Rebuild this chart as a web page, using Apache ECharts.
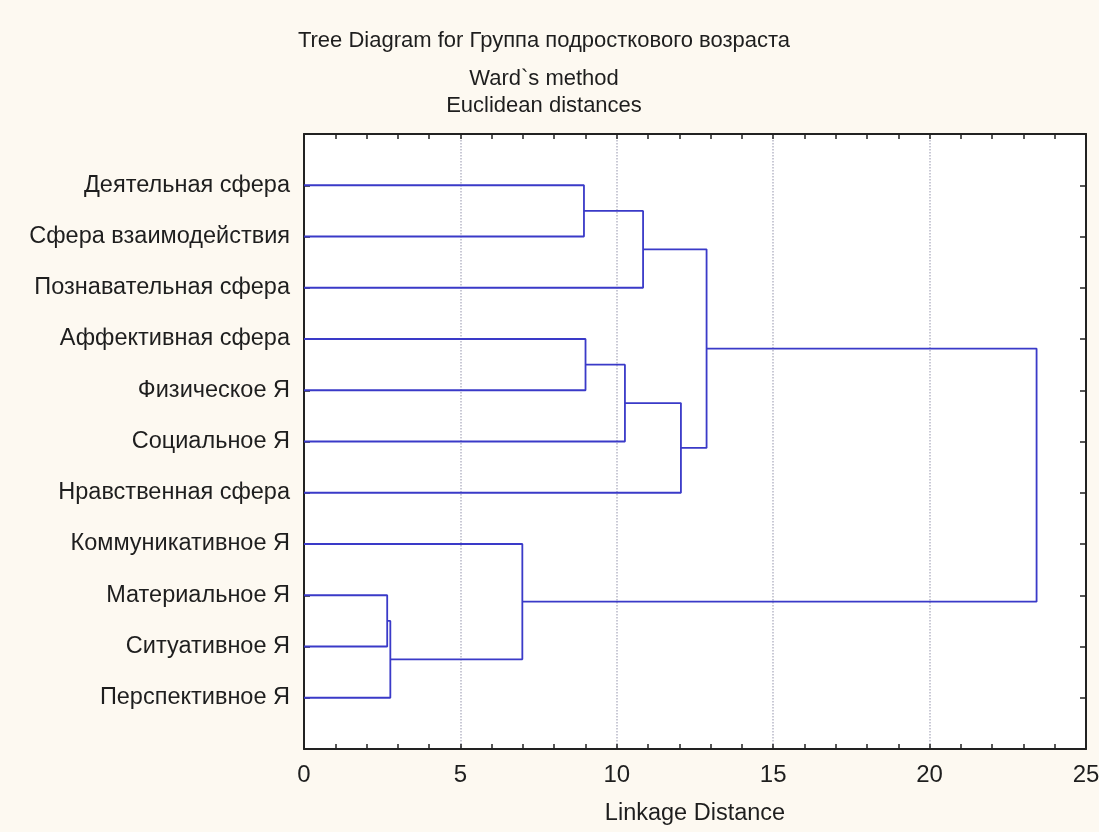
<!DOCTYPE html>
<html><head><meta charset="utf-8">
<script src="https://cdn.jsdelivr.net/npm/echarts@6/dist/echarts.min.js"></script>
<style>html,body{margin:0;padding:0;background:#fdf9f1;}#c{width:1099px;height:832px;}</style>
</head><body><div id="c"></div>
<script>
const leaves = ["Деятельная сфера","Сфера взаимодействия","Познавательная сфера","Аффективная сфера","Физическое Я","Социальное Я","Нравственная сфера","Коммуникативное Я","Материальное Я","Ситуативное Я","Перспективное Я"];
// merges: node index of left child, right child, linkage distance (new node = 11 + k)
const mergeLeft   = [0, 11, 3, 13, 14, 12, 8, 17, 7, 16];
const mergeRight  = [1, 2, 4, 5, 6, 15, 9, 10, 18, 19];
const mergeHeight = [8.95, 10.84, 9.0, 10.26, 12.05, 12.87, 2.66, 2.76, 6.98, 23.42];
const xTicks = [0, 5, 10, 15, 20, 25];

const nodeX = leaves.map(() => 0);
const nodeY = leaves.map((_, i) => i + 1);
const series = [];
mergeLeft.forEach((l, k) => {
  const r = mergeRight[k], h = mergeHeight[k];
  series.push({
    type: 'line', symbol: 'none', animation: false, silent: true,
    lineStyle: {color: '#3a3ac8', width: 1.8},
    data: [[nodeX[l], nodeY[l]], [h, nodeY[l]], [h, nodeY[r]], [nodeX[r], nodeY[r]]]
  });
  nodeX.push(h);
  nodeY.push((nodeY[l] + nodeY[r]) / 2);
});

const font = 'Liberation Sans, Arial, sans-serif';
const txt = '#1e1e1e';
const chart = echarts.init(document.getElementById('c'), null, {renderer: 'canvas'});
const xBase = {
  type: 'value', min: xTicks[0], max: xTicks[xTicks.length - 1], interval: 5,
  axisLine: {show: true, onZero: false, lineStyle: {color: '#222', width: 2}},
  axisTick: {show: true, inside: true, length: 5, lineStyle: {color: '#222', width: 1.5}},
  minorTick: {show: true, splitNumber: 5, length: 5, lineStyle: {color: '#222', width: 1.5}},
};
const yBase = {
  type: 'value', min: 0, max: leaves.length + 1, interval: 1, inverse: true,
  axisLine: {show: true, onZero: false, lineStyle: {color: '#222', width: 2}},
  axisTick: {show: true, inside: true, length: 6, lineStyle: {color: '#222', width: 1.5}},
  splitLine: {show: false}
};
const tStyle = {fontFamily: font, fontSize: 22, fontWeight: 'normal', color: txt};
chart.setOption({
  backgroundColor: '#fdf9f1',
  title: [
    {text: 'Tree Diagram for Группа подросткового возраста', left: 539, top: 25, textAlign: 'center', textStyle: tStyle},
    {text: 'Ward`s method', left: 539, top: 63, textAlign: 'center', textStyle: tStyle},
    {text: 'Euclidean distances', left: 539, top: 90, textAlign: 'center', textStyle: tStyle}
  ],
  grid: {left: 304, right: 13, top: 134, bottom: 83, outerBoundsMode: 'none', containLabel: false,
         show: true, backgroundColor: '#ffffff', borderWidth: 0},
  xAxis: [
    Object.assign({}, xBase, {
      position: 'bottom', name: 'Linkage Distance', nameLocation: 'middle', nameGap: 53,
      nameTextStyle: {fontFamily: font, fontSize: 23.5, color: txt},
      axisLabel: {fontFamily: font, fontSize: 24, color: txt, margin: 14},
      splitLine: {show: true, lineStyle: {color: '#b8b8c8', type: 'dotted', width: 1.5}}
    }),
    Object.assign({}, xBase, {position: 'top', axisLabel: {show: false}, splitLine: {show: false}})
  ],
  yAxis: [
    Object.assign({}, yBase, {
      position: 'left',
      axisLabel: {fontFamily: font, fontSize: 23.5, color: txt, margin: 14,
        formatter: v => (v >= 1 && v <= leaves.length) ? leaves[v - 1] : ''}
    }),
    Object.assign({}, yBase, {position: 'right', axisLabel: {show: false}})
  ],
  series: series
});
</script></body></html>
